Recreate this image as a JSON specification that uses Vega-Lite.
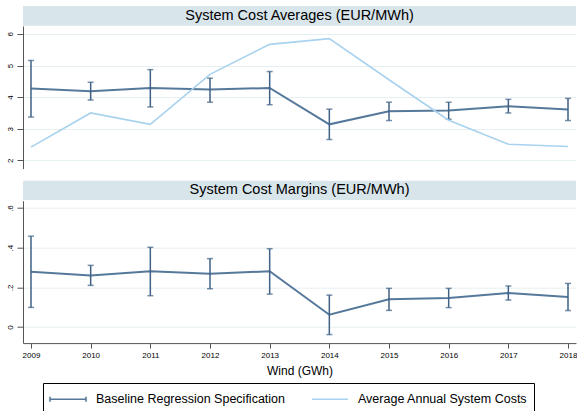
{
  "$schema": "https://vega.github.io/schema/vega-lite/v6.json",
  "padding": {"left": 6, "top": 6, "right": 0, "bottom": 0},
  "background": "white",
  "datasets": {
    "avg_coef": [
      {"year": 2009, "est": 4.27, "lo": 3.37, "hi": 5.16},
      {"year": 2010, "est": 4.19, "lo": 3.91, "hi": 4.47},
      {"year": 2011, "est": 4.29, "lo": 3.69, "hi": 4.87},
      {"year": 2012, "est": 4.24, "lo": 3.84, "hi": 4.60},
      {"year": 2013, "est": 4.29, "lo": 3.76, "hi": 4.81},
      {"year": 2014, "est": 3.14, "lo": 2.66, "hi": 3.62},
      {"year": 2015, "est": 3.55, "lo": 3.26, "hi": 3.84},
      {"year": 2016, "est": 3.58, "lo": 3.30, "hi": 3.84},
      {"year": 2017, "est": 3.71, "lo": 3.50, "hi": 3.93},
      {"year": 2018, "est": 3.61, "lo": 3.26, "hi": 3.96}
    ],
    "annual_cost": [
      {"year": 2009, "cost": 2.42},
      {"year": 2010, "cost": 3.50},
      {"year": 2011, "cost": 3.14},
      {"year": 2012, "cost": 4.72},
      {"year": 2013, "cost": 5.67},
      {"year": 2014, "cost": 5.85},
      {"year": 2015, "cost": 4.55},
      {"year": 2016, "cost": 3.27},
      {"year": 2017, "cost": 2.51},
      {"year": 2018, "cost": 2.44}
    ],
    "margin_coef": [
      {"year": 2009, "est": 0.279, "lo": 0.099, "hi": 0.458},
      {"year": 2010, "est": 0.260, "lo": 0.210, "hi": 0.311},
      {"year": 2011, "est": 0.281, "lo": 0.158, "hi": 0.402},
      {"year": 2012, "est": 0.269, "lo": 0.193, "hi": 0.345},
      {"year": 2013, "est": 0.281, "lo": 0.166, "hi": 0.395},
      {"year": 2014, "est": 0.062, "lo": -0.038, "hi": 0.161},
      {"year": 2015, "est": 0.140, "lo": 0.084, "hi": 0.195},
      {"year": 2016, "est": 0.146, "lo": 0.098, "hi": 0.195},
      {"year": 2017, "est": 0.171, "lo": 0.136, "hi": 0.207},
      {"year": 2018, "est": 0.151, "lo": 0.083, "hi": 0.220}
    ]
  },
  "spacing": 11.7,
  "vconcat": [
    {
      "spacing": 0,
      "vconcat": [
        {
          "width": 553,
          "height": 19.7,
          "view": {"fill": "#d8e5eb", "stroke": null},
          "data": {"values": [{"label": "System Cost Averages (EUR/MWh)"}]},
          "mark": {"type": "text", "font": "Liberation Sans", "fontSize": 14.5, "color": "black"},
          "encoding": {"text": {"field": "label"}}
        },
        {
          "width": 553,
          "height": 142.6,
          "layer": [
            {
              "data": {"name": "avg_coef"},
              "mark": {"type": "line", "strokeWidth": 2},
              "encoding": {
                "x": {"field": "year", "type": "quantitative", "scale": {"domain": [2008.866, 2018.134], "nice": false, "zero": false}, "axis": null},
                "y": {"field": "est", "type": "quantitative", "scale": {"domain": [1.74, 6.25], "nice": false, "zero": false},
                  "axis": {"title": null, "values": [2, 3, 4, 5, 6], "format": "d"}},
                "color": {"datum": "Baseline Regression Specification", "type": "nominal",
                  "scale": {"domain": ["Baseline Regression Specification", "Average Annual System Costs"], "range": ["#56799b", "#a8d2ee"]},
                  "legend": {
                    "encode": {
                      "symbols": {
                        "update": {
                          "shape": {"signal": "datum.value === 'Baseline Regression Specification' ? 'M-1,-0.28V0.28M-1,0H3M3,-0.28V0.28' : 'M-1,0H3'"}
                        }
                      }
                    }
                  }}
              }
            },
            {
              "data": {"name": "avg_coef"},
              "mark": {"type": "rule", "color": "#3e6185", "strokeWidth": 1.5},
              "encoding": {
                "x": {"field": "year", "type": "quantitative"},
                "y": {"field": "lo", "type": "quantitative", "axis": {"title": null, "values": [2, 3, 4, 5, 6], "format": "d"}},
                "y2": {"field": "hi"}
              }
            },
            {
              "data": {"name": "avg_coef"},
              "mark": {"type": "tick", "orient": "horizontal", "color": "#3e6185", "size": 6, "thickness": 1.5},
              "encoding": {
                "x": {"field": "year", "type": "quantitative"},
                "y": {"field": "lo", "type": "quantitative", "axis": {"title": null, "values": [2, 3, 4, 5, 6], "format": "d"}}
              }
            },
            {
              "data": {"name": "avg_coef"},
              "mark": {"type": "tick", "orient": "horizontal", "color": "#3e6185", "size": 6, "thickness": 1.5},
              "encoding": {
                "x": {"field": "year", "type": "quantitative"},
                "y": {"field": "hi", "type": "quantitative", "axis": {"title": null, "values": [2, 3, 4, 5, 6], "format": "d"}}
              }
            },
            {
              "data": {"name": "annual_cost"},
              "mark": {"type": "line", "strokeWidth": 1.6},
              "encoding": {
                "x": {"field": "year", "type": "quantitative"},
                "y": {"field": "cost", "type": "quantitative", "axis": {"title": null, "values": [2, 3, 4, 5, 6], "format": "d"}},
                "color": {"datum": "Average Annual System Costs", "type": "nominal"}
              }
            }
          ]
        }
      ]
    },
    {
      "spacing": 0,
      "vconcat": [
        {
          "width": 553,
          "height": 19.3,
          "view": {"fill": "#d8e5eb", "stroke": null},
          "data": {"values": [{"label": "System Cost Margins (EUR/MWh)"}]},
          "mark": {"type": "text", "font": "Liberation Sans", "fontSize": 14.5, "color": "black"},
          "encoding": {"text": {"field": "label"}}
        },
        {
          "width": 553,
          "height": 142.4,
          "data": {"name": "margin_coef"},
          "encoding": {
            "x": {"field": "year", "type": "quantitative", "scale": {"domain": [2008.866, 2018.134], "nice": false, "zero": false},
              "axis": {"title": "Wind (GWh)", "values": [2009, 2010, 2011, 2012, 2013, 2014, 2015, 2016, 2017, 2018], "format": "d", "grid": false}}
          },
          "layer": [
            {
              "mark": {"type": "line", "strokeWidth": 2, "color": "#56799b"},
              "encoding": {
                "y": {"field": "est", "type": "quantitative", "scale": {"domain": [-0.081, 0.637], "nice": false, "zero": false},
                  "axis": {"title": null, "values": [0, 0.2, 0.4, 0.6],
                    "labelExpr": "datum.value == 0 ? '0' : replace(format(datum.value, '.1f'), '0.', '.')"}}
              }
            },
            {
              "mark": {"type": "rule", "color": "#3e6185", "strokeWidth": 1.5},
              "encoding": {
                "y": {"field": "lo", "type": "quantitative", "axis": {"title": null, "values": [0, 0.2, 0.4, 0.6],
                    "labelExpr": "datum.value == 0 ? '0' : replace(format(datum.value, '.1f'), '0.', '.')"}},
                "y2": {"field": "hi"}
              }
            },
            {
              "mark": {"type": "tick", "orient": "horizontal", "color": "#3e6185", "size": 6, "thickness": 1.5},
              "encoding": {"y": {"field": "lo", "type": "quantitative", "axis": {"title": null, "values": [0, 0.2, 0.4, 0.6],
                    "labelExpr": "datum.value == 0 ? '0' : replace(format(datum.value, '.1f'), '0.', '.')"}}}
            },
            {
              "mark": {"type": "tick", "orient": "horizontal", "color": "#3e6185", "size": 6, "thickness": 1.5},
              "encoding": {"y": {"field": "hi", "type": "quantitative", "axis": {"title": null, "values": [0, 0.2, 0.4, 0.6],
                    "labelExpr": "datum.value == 0 ? '0' : replace(format(datum.value, '.1f'), '0.', '.')"}}}
            }
          ]
        }
      ]
    }
  ],
  "config": {
    "font": "Liberation Sans",
    "view": {"stroke": null},
    "axis": {
      "domainColor": "#555555",
      "tickColor": "#555555",
      "labelColor": "black",
      "titleColor": "black",
      "labelFont": "Liberation Sans",
      "titleFont": "Liberation Sans",
      "labelFontSize": 8,
      "tickSize": 5,
      "labelOverlap": false
    },
    "axisY": {
      "grid": true,
      "gridColor": "#e6eff2",
      "gridWidth": 1,
      "labelAngle": -90,
      "labelPadding": 3,
      "tickSize": 6
    },
    "axisX": {
      "labelPadding": 3,
      "titleFontSize": 12,
      "titleFontWeight": "normal",
      "titlePadding": 6
    },
    "legend": {
      "orient": "none",
      "legendX": 20,
      "legendY": 377,
      "title": null,
      "direction": "horizontal",
      "columns": 2,
      "strokeColor": "black",
      "strokeWidth": 1,
      "padding": 6,
      "labelFont": "Liberation Sans",
      "labelFontSize": 12.5,
      "labelColor": "black",
      "labelLimit": 400,
      "symbolSize": 324,
      "symbolStrokeWidth": 1.6,
      "labelOffset": 27,
      "columnPadding": 23,
      "symbolType": "M-1,0H3"
    }
  },
  "resolve": {"legend": {"color": "shared"}}
}
